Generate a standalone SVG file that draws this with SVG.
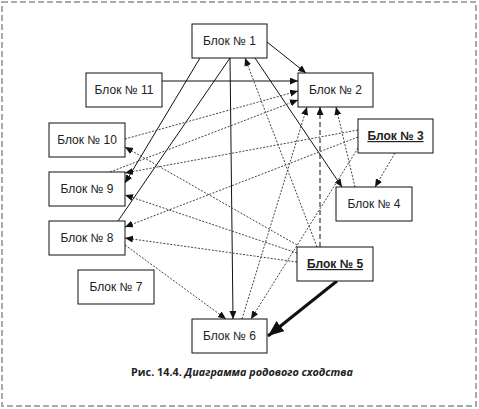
<svg xmlns="http://www.w3.org/2000/svg" width="479" height="409" viewBox="0 0 479 409">
<style>
.box{fill:#fff;stroke:#111;stroke-width:1}
.lbl{font-family:"Liberation Sans",Arial,sans-serif;font-size:12px;fill:#222;text-anchor:middle}
.bold{font-weight:bold;text-decoration:underline}
.solid{stroke:#111;stroke-width:1;fill:none}
.dot{stroke:#444;stroke-width:1;fill:none;stroke-dasharray:2,1.5}
.dash{stroke:#111;stroke-width:1;fill:none;stroke-dasharray:5,3}
.thick{stroke:#111;stroke-width:3;fill:none}
.cap{font-family:"Open Sans","Noto Sans",sans-serif;font-size:11px;font-weight:bold;fill:#222}
</style>
<defs>
<marker id="ah" markerUnits="userSpaceOnUse" markerWidth="9" markerHeight="8" refX="8" refY="3.5" orient="auto">
<path d="M0,0 L8,3.5 L0,7 z" fill="#111"/>
</marker>
<marker id="ahb" markerUnits="userSpaceOnUse" markerWidth="18" markerHeight="14" refX="16" refY="6.5" orient="auto">
<path d="M0,0 L16,6.5 L0,13 z" fill="#111"/>
</marker>
</defs>
<rect x="0" y="0" width="479" height="409" fill="#fff"/>
<rect x="2" y="2" width="474" height="404" fill="none" stroke="#aaa" stroke-width="2" stroke-dasharray="6,3"/>
<g id="connectors">
<path class="solid" d="M267,42 L306,73" marker-end="url(#ah)"/>
<path class="solid" d="M162,81 L298,81" marker-end="url(#ah)"/>
<path class="solid" d="M200,58 L125,183" marker-end="url(#ah)"/>
<path class="solid" d="M230,58 L118,221"/>
<path class="solid" d="M230,58 L233,319" marker-end="url(#ah)"/>
<path class="solid" d="M255,58 L342,187" marker-end="url(#ah)"/>
<path class="thick" d="M337,281 L268,336" marker-end="url(#ahb)"/>
<path class="dash" d="M320,247 L320,107" marker-end="url(#ah)"/>
<path class="dot" d="M125,139 L298,91" marker-end="url(#ah)"/>
<path class="dot" d="M110,172 L298,100" marker-end="url(#ah)"/>
<path class="dot" d="M297,245 L125,147" marker-end="url(#ah)"/>
<path class="dot" d="M358,130 L125,173" marker-end="url(#ah)"/>
<path class="dot" d="M358,137 L125,227" marker-end="url(#ah)"/>
<path class="dot" d="M297,253 L125,195" marker-end="url(#ah)"/>
<path class="dot" d="M297,262 L125,238" marker-end="url(#ah)"/>
<path class="dot" d="M125,245 L226,319" marker-end="url(#ah)"/>
<path class="dot" d="M395,153 L375,187" marker-end="url(#ah)"/>
<path class="dot" d="M355,187 L336,107" marker-end="url(#ah)"/>
<path class="dot" d="M317,247 L245,58" marker-end="url(#ah)"/>
<path class="dot" d="M242,319 L307,107" marker-end="url(#ah)"/>
<path class="dot" d="M358,148 L251,319" marker-end="url(#ah)"/>
</g>
<g id="block1"><rect class="box" x="192" y="24" width="75" height="34"/><text class="lbl" x="229.5" y="45">Блок № 1</text></g>
<g id="block2"><rect class="box" x="298" y="73" width="75" height="34"/><text class="lbl" x="335.5" y="94">Блок № 2</text></g>
<g id="block3"><rect class="box" x="358" y="119" width="75" height="34"/><text class="lbl bold" x="395.5" y="140">Блок № 3</text></g>
<g id="block4"><rect class="box" x="336" y="187" width="76" height="34"/><text class="lbl" x="374" y="208">Блок № 4</text></g>
<g id="block5"><rect class="box" x="297" y="247" width="76" height="34"/><text class="lbl bold" x="335" y="268">Блок № 5</text></g>
<g id="block6"><rect class="box" x="192" y="319" width="75" height="34"/><text class="lbl" x="229.5" y="340">Блок № 6</text></g>
<g id="block7"><rect class="box" x="78" y="270" width="76" height="34"/><text class="lbl" x="116" y="291">Блок № 7</text></g>
<g id="block8"><rect class="box" x="49" y="221" width="76" height="34"/><text class="lbl" x="87" y="242">Блок № 8</text></g>
<g id="block9"><rect class="box" x="49" y="172" width="76" height="34"/><text class="lbl" x="87" y="193">Блок № 9</text></g>
<g id="block10"><rect class="box" x="49" y="123" width="76" height="34"/><text class="lbl" x="87" y="144">Блок № 10</text></g>
<g id="block11"><rect class="box" x="86" y="73" width="76" height="34"/><text class="lbl" x="124" y="94">Блок № 11</text></g>
<text class="cap" x="131" y="376" textLength="222" lengthAdjust="spacingAndGlyphs">Рис. 14.4. <tspan font-style="italic">Диаграмма родового сходства</tspan></text>
</svg>
